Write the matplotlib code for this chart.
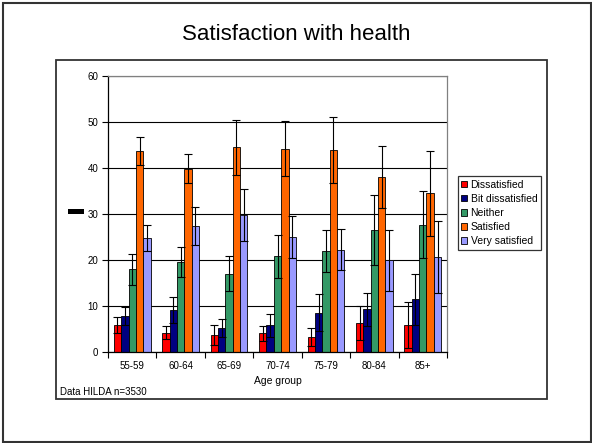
import numpy as np
import matplotlib
matplotlib.use("Agg")
import matplotlib.pyplot as plt
import matplotlib.patches as patches

plt.rcParams['font.family'] = ['Liberation Sans', 'DejaVu Sans']

age_groups = ['55-59', '60-64', '65-69', '70-74', '75-79', '80-84', '85+']
categories = ['Dissatisfied', 'Bit dissatisfied', 'Neither', 'Satisfied', 'Very satisfied']
colors = ['#FF0000', '#000080', '#339966', '#FF6600', '#9999FF']

# percentages per category (one value per age group)
dissatisfied = [5.8, 4.1, 3.6, 4.0, 3.2, 6.2, 5.8]
bit_dissatisfied = [7.7, 9.1, 5.2, 5.7, 8.5, 9.2, 11.4]
neither = [17.9, 19.5, 17.0, 20.7, 21.9, 26.4, 27.6]
satisfied = [43.6, 39.8, 44.4, 44.1, 43.9, 38.0, 34.4]
very_satisfied = [24.8, 27.3, 29.7, 25.0, 22.2, 19.9, 20.6]

# error bar half-widths
err_dissatisfied = [1.7, 1.4, 2.2, 1.6, 2.0, 3.7, 4.9]
err_bit_dissatisfied = [2.0, 2.9, 1.9, 2.4, 4.0, 3.6, 5.6]
err_neither = [3.4, 3.3, 3.7, 4.7, 4.5, 7.6, 7.3]
err_satisfied = [3.1, 3.2, 6.0, 6.0, 7.2, 6.8, 9.2]
err_very_satisfied = [2.8, 4.1, 5.6, 4.6, 4.4, 6.6, 7.8]

values = [dissatisfied, bit_dissatisfied, neither, satisfied, very_satisfied]
errors = [err_dissatisfied, err_bit_dissatisfied, err_neither, err_satisfied, err_very_satisfied]

fig = plt.figure(figsize=(5.92, 4.43), dpi=100)

# slide frame and chart box
fig.patches.append(patches.Rectangle((3 / 592, 1 - 442 / 443), 588 / 592, 439 / 443,
                                     transform=fig.transFigure, fill=False,
                                     edgecolor='#333333', linewidth=1.5))
fig.patches.append(patches.Rectangle((56 / 592, 1 - 399 / 443), 490.5 / 592, 339 / 443,
                                     transform=fig.transFigure, fill=False,
                                     edgecolor='#333333', linewidth=1.3))
# stray black y-label block
fig.patches.append(patches.Rectangle((68 / 592, 1 - 214 / 443), 16 / 592, 5 / 443,
                                     transform=fig.transFigure, facecolor='black',
                                     edgecolor='none'))

fig.text(0.5, 1 - 34 / 443, 'Satisfaction with health', ha='center', va='center', fontsize=16)

ax = fig.add_axes([108 / 592, 1 - 351.7 / 443, 339 / 592, 276 / 443])

x = np.arange(len(age_groups))
width = 0.152
for i, (vals, errs) in enumerate(zip(values, errors)):
    pos = x + (i - 2) * width
    ax.bar(pos, vals, width, color=colors[i], edgecolor='black', linewidth=0.6,
           label=categories[i], zorder=2)
    ax.errorbar(pos, vals, yerr=errs, fmt='none', ecolor='black', elinewidth=0.8,
                capsize=2.6, capthick=0.8, zorder=3)

ax.set_xlim(-0.5, len(age_groups) - 0.5)
ax.set_ylim(0, 60)
ax.set_yticks(range(0, 61, 10))
ax.yaxis.grid(True, color='black', linewidth=0.8, zorder=0)
ax.set_axisbelow(True)

ax.set_xticks(x)
ax.set_xticklabels(age_groups, fontsize=7)
ax.set_xticks(np.arange(-0.5, len(age_groups), 1), minor=True)
ax.tick_params(axis='x', which='major', length=0, pad=7)
ax.tick_params(axis='x', which='minor', length=4, direction='out', width=0.8)
ax.tick_params(axis='y', labelsize=7, length=4, direction='out', width=0.8, pad=3)

ax.spines['left'].set_color('black')
ax.spines['bottom'].set_color('black')
ax.spines['top'].set_color('#808080')
ax.spines['right'].set_color('#808080')
for s in ax.spines.values():
    s.set_linewidth(0.9)

ax.set_xlabel('Age group', fontsize=7.5, labelpad=3)

leg = ax.legend(loc='upper left', bbox_to_anchor=(457.5 / 592, 1 - 176 / 443),
                bbox_transform=fig.transFigure, fontsize=7.5, frameon=True, fancybox=False,
                handlelength=0.6, handleheight=0.6, handletextpad=0.3, labelspacing=0.4,
                borderpad=0.35, borderaxespad=0)
leg.get_frame().set_edgecolor('black')
leg.get_frame().set_linewidth(0.9)

fig.text(60 / 592, 1 - 392 / 443, 'Data HILDA n=3530', ha='left', va='center', fontsize=7)

fig.savefig('out.png', dpi=100)
